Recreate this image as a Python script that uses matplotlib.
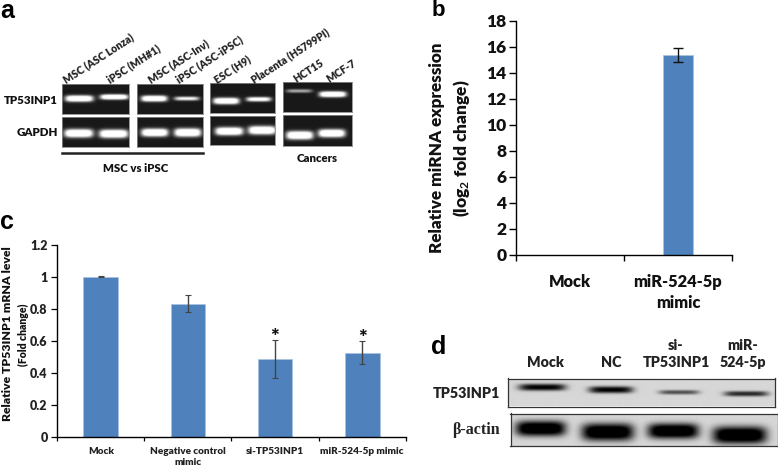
import numpy as np
import matplotlib
matplotlib.use("Agg")
import matplotlib.pyplot as plt

W, H = 778, 467
BODY = "Lato"
WEIGHT = 800
BLUE = "#4f81bd"
EDGE = "#a9c3e3"
plt.rcParams["mathtext.fontset"] = "custom"
plt.rcParams["mathtext.bf"] = "Lato:bold"
plt.rcParams["mathtext.rm"] = "Lato:bold"
plt.rcParams["mathtext.default"] = "bf"

# Panel b
b_categories = ["Mock", "miR-524-5p\nmimic"]
b_values = [0, 15.35]
b_err_low = [0, 0.5]
b_err_high = [0, 0.52]
b_ticks = [0, 2, 4, 6, 8, 10, 12, 14, 16, 18]

# Panel c
c_categories = ["Mock", "Negative control\nmimic", "si-TP53INP1", "miR-524-5p mimic"]
c_values = [1.0, 0.83, 0.485, 0.525]
c_err_low = [0.0, 0.05, 0.12, 0.07]
c_err_high = [0.003, 0.055, 0.12, 0.075]
c_stars = ["", "", "*", "*"]
c_ticks = [0, 0.2, 0.4, 0.6, 0.8, 1, 1.2]
c_ticklabels = ["0", "0.2", "0.4", "0.6", "0.8", "1", "1.2"]

# Panel a: lane labels
a_lanes = ["MSC (ASC Lonza)", "iPSC (MH#1)", "MSC (ASC-Inv)", "iPSC (ASC-iPSC)",
           "ESC (H9)", "Placenta (HS799PI)", "HCT15", "MCF-7"]
a_lane_x = [64, 108, 149, 177, 215, 252, 294, 327]

# gel boxes: left, right, top, bottom (px)
a_gels = [(62, 129, 84, 114), (137, 203, 84, 114), (210, 275, 83, 113), (283, 352, 82, 112),
          (62, 129, 117, 147), (137, 203, 117, 147), (210, 275, 116, 145), (283, 352, 115, 146)]
# bands per gel: x0, x1, y, half height, brightness
a_bands = [
    [(65, 93, 98.3, 3.2, 1.0), (100, 128, 96.7, 2.6, 1.0)],
    [(141, 167, 98.3, 3.0, 1.0), (174, 199, 98.3, 2.0, 0.7)],
    [(213, 239, 100.7, 3.2, 1.0), (246, 271, 99, 2.3, 0.8)],
    [(286, 312, 90.7, 1.8, 0.45), (319, 346, 94, 2.9, 1.0)],
    [(64, 93, 133, 4.2, 1.0), (99, 128, 133.5, 4.2, 1.0)],
    [(141, 168, 132.3, 4.0, 1.0), (174, 201, 132.3, 4.2, 1.0)],
    [(215, 243, 131, 4.0, 1.0), (248, 276, 130, 4.2, 1.0)],
    [(286, 313, 135, 4.2, 1.0), (318, 345, 133, 4.0, 1.0)],
]

# Panel d: blot boxes and dark bands
d_labels = ["Mock", "NC", "si-\nTP53INP1", "miR-\n524-5p"]
d_label_x = [545, 611, 676, 743]
d_gels = [(507.5, 775, 378.5, 406.5), (510.5, 777.5, 413.5, 446)]
d_bands = [
    [(518, 565, 387.5, 3.4, 0.8), (588, 632, 390, 3.4, 0.8), (658, 698, 392.5, 2.2, 0.5), (723, 767, 394, 2.6, 0.65)],
    [(515, 565, 428.5, 7.5, 1.0), (581, 633, 432, 8.5, 1.0), (647, 698, 431, 7.5, 1.0), (712, 766, 435, 8.5, 1.0)],
]

fig = plt.figure(figsize=(W / 100, H / 100), dpi=100, facecolor="white")


def box_ax(x0, x1, ytop, ybot):
    return fig.add_axes([x0 / W, 1 - ybot / H, (x1 - x0) / W, (ybot - ytop) / H])


def ftext(x, y, s, **kw):
    kw.setdefault("family", BODY)
    kw.setdefault("fontweight", WEIGHT)
    kw.setdefault("ha", "center")
    kw.setdefault("va", "center")
    kw.setdefault("color", "#111111")
    return fig.text(x / W, 1 - y / H, s, **kw)


def band_image(box, bands, background, sign):
    x0, x1, yt, yb = box
    xs = np.arange(x0, x1, 0.5)
    ys = np.arange(yt, yb, 0.5)
    X, Y = np.meshgrid(xs, ys)
    img = np.full(X.shape, background, dtype=float)
    for bx0, bx1, by, hh, level in bands:
        cx, hw = (bx0 + bx1) / 2, (bx1 - bx0) / 2
        d = (np.abs(X - cx) / hw) ** 5 + (np.abs(Y - by) / hh) ** 2.6
        img = img + sign * level * np.exp(-d)
    ax = box_ax(x0, x1, yt, yb)
    ax.imshow(np.clip(img, 0, 1), cmap="gray", vmin=0, vmax=1, aspect="auto",
              extent=(x0, x1, yb, yt), interpolation="bilinear")
    ax.set_xticks([])
    ax.set_yticks([])
    return ax


# Panel a
for box, bands in zip(a_gels, a_bands):
    ax = band_image(box, bands, 0.10, 1.25)
    for s in ax.spines.values():
        s.set_color("#888888")
        s.set_linewidth(0.6)
for name, x in zip(a_lanes, a_lane_x):
    ftext(x, 80, name, rotation=33, rotation_mode="anchor", ha="left", va="center", fontsize=7.6, color="#222222")
ftext(58, 100, "TP53INP1", ha="right", fontsize=8.3)
ftext(58, 133, "GAPDH", ha="right", fontsize=8.3)
ftext(135.5, 168, "MSC vs iPSC", fontsize=8.2)
ftext(317, 158, "Cancers", fontsize=8.2)
fig.add_artist(plt.Line2D([62 / W, 202.5 / W], [1 - 153 / H] * 2, color="#222222", lw=1.8))
ftext(0, 11, "a", family="Liberation Sans", fontweight="bold", ha="left", fontsize=18, color="black")

# Panel b
axb = box_ax(516, 732, 20.7, 254.7)
xb = np.arange(len(b_categories))
axb.bar(xb, b_values, width=0.285, color=BLUE, edgecolor=EDGE, linewidth=0.6)
has_err = np.array(b_err_high) > 0
axb.errorbar(xb[has_err], np.array(b_values)[has_err],
             yerr=[np.array(b_err_low)[has_err], np.array(b_err_high)[has_err]],
             fmt="none", ecolor="#111111", elinewidth=1, capsize=3.5, capthick=1)
axb.set_xlim(-0.5, 1.5)
axb.set_ylim(0, 18)
axb.set_yticks(b_ticks)
axb.set_yticklabels([str(t) for t in b_ticks], family=BODY, fontweight=WEIGHT, fontsize=12.5, color="#111111")
axb.set_xticks([-0.5, 0.5, 1.5])
axb.set_xticklabels([])
axb.tick_params(axis="y", length=5, width=1, pad=2, direction="out")
axb.tick_params(axis="x", length=4, width=1, direction="out")
for s in ("top", "right"):
    axb.spines[s].set_visible(False)
for s in ("left", "bottom"):
    axb.spines[s].set_linewidth(1)
for i, name in enumerate(b_categories):
    axb.annotate(name, xy=(i, 0), xycoords=("data", "axes fraction"), xytext=(0, -14), textcoords="offset points",
                 ha="center", va="top", family=BODY, fontweight=WEIGHT, fontsize=11.8, color="#111111", linespacing=1.4)
ftext(437, 148, "Relative miRNA expression", rotation=90, fontsize=12.3)
ftext(461, 148, r"(log$_{2}$ fold change)", rotation=90, fontsize=12.5, math_fontfamily="custom")
ftext(432, 10, "b", family="Liberation Sans", fontweight="bold", ha="left", va="center", fontsize=16, color="black")

# Panel c
axc = box_ax(57.3, 405.7, 245, 436.7)
xc = np.arange(len(c_categories))
axc.bar(xc, c_values, width=0.4, color=BLUE, edgecolor=EDGE, linewidth=0.5,
        yerr=[c_err_low, c_err_high], error_kw=dict(ecolor="#444444", elinewidth=1, capsize=2, capthick=0.8))
axc.set_xlim(-0.5, 3.5)
axc.set_ylim(0, 1.2)
axc.set_yticks(c_ticks)
axc.set_yticklabels(c_ticklabels, family=BODY, fontweight=WEIGHT, fontsize=9, color="#222222")
axc.set_xticks(np.arange(-0.5, 4, 1))
axc.set_xticklabels([])
axc.tick_params(axis="y", length=4, width=0.9, pad=3, direction="out")
axc.tick_params(axis="x", length=3, width=0.9, direction="out")
for s in ("top", "right"):
    axc.spines[s].set_visible(False)
for s in ("left", "bottom"):
    axc.spines[s].set_linewidth(1)
for i, name in enumerate(c_categories):
    axc.annotate(name, xy=(i, 0), xycoords=("data", "axes fraction"), xytext=(0, -7.5), textcoords="offset points",
                 ha="center", va="top", family=BODY, fontweight=WEIGHT, fontsize=7.2, color="#222222", linespacing=1.3)
    if c_stars[i]:
        axc.annotate(c_stars[i], xy=(i, c_values[i] + c_err_high[i]), xytext=(0, -5), textcoords="offset points",
                     ha="center", va="bottom", family=BODY, fontweight=WEIGHT, fontsize=15, color="#111111")
ftext(8, 334, "Relative TP53INP1 mRNA level", rotation=90, fontsize=8.8)
ftext(23.5, 335, "(Fold change)", rotation=90, fontsize=7.6)
ftext(0, 222, "c", family="Liberation Sans", fontweight="bold", ha="left", fontsize=18, color="black")

# Panel d
for box, bands, lvl in zip(d_gels, d_bands, (0.84, 0.84)):
    ax = band_image(box, bands, lvl, -1.05)
    for s in ax.spines.values():
        s.set_color("#333333")
        s.set_linewidth(0.9)
for name, x in zip(d_labels, d_label_x):
    ftext(x, 369, name, va="bottom", fontsize=10.3, linespacing=1.4, color="#222222")
ftext(500, 394, "TP53INP1", ha="right", fontsize=10.3, color="#222222")
ftext(452, 430, "\u03b2-actin", ha="left", family="Liberation Serif", fontweight="bold", fontsize=11.5, color="#222222")
ftext(431, 347, "d", family="Liberation Sans", fontweight="bold", ha="left", fontsize=18, color="black")

fig.savefig("out.png", dpi=100)
